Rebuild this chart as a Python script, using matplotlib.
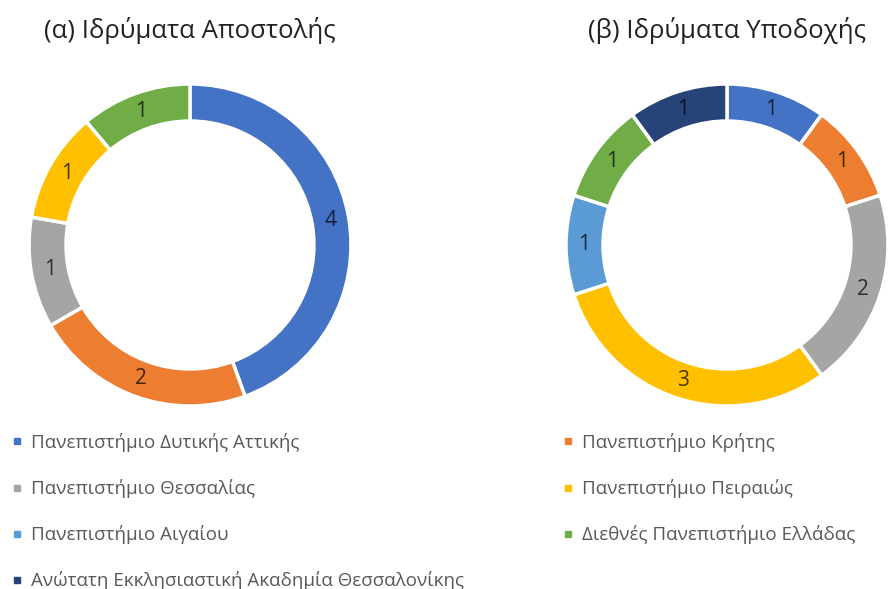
import numpy as np
import matplotlib.pyplot as plt
from matplotlib.lines import Line2D
from matplotlib.colors import to_rgb

plt.rcParams['font.family'] = ['Open Sans', 'DejaVu Sans']

# Institutions (legend order as in Excel, row-wise)
institutions = [
    'Πανεπιστήμιο Δυτικής Αττικής',
    'Πανεπιστήμιο Κρήτης',
    'Πανεπιστήμιο Θεσσαλίας',
    'Πανεπιστήμιο Πειραιώς',
    'Πανεπιστήμιο Αιγαίου',
    'Διεθνές Πανεπιστήμιο Ελλάδας',
    'Ανώτατη Εκκλησιαστική Ακαδημία Θεσσαλονίκης',
]
colors = ['#4472C4', '#ED7D31', '#A5A5A5', '#FFC000',
          '#5B9BD5', '#70AD47', '#264478']

sending   = [4, 2, 1, 1, 0, 1, 0]   # (α) Ιδρύματα Αποστολής
receiving = [1, 1, 2, 3, 1, 1, 1]   # (β) Ιδρύματα Υποδοχής

titles = ['(α) Ιδρύματα Αποστολής', '(β) Ιδρύματα Υποδοχής']

W, H = 894, 589
fig = plt.figure(figsize=(W / 100, H / 100), dpi=100)

R_PX = 161
LIM = 1.06
ring = 0.23


def darken(c, f=0.28):
    r, g, b = to_rgb(c)
    return (r * f, g * f, b * f)


def donut(cx, cy, values, title):
    size = 2 * R_PX * LIM
    ax = fig.add_axes([(cx - size / 2) / W, 1 - (cy + size / 2) / H,
                       size / W, size / H])
    idx = [i for i, v in enumerate(values) if v > 0]
    vals = [values[i] for i in idx]
    cols = [colors[i] for i in idx]
    wedges, _ = ax.pie(vals, colors=cols, startangle=90,
                       counterclock=False, radius=1,
                       wedgeprops=dict(width=ring, edgecolor='white',
                                       linewidth=2.5))
    rmid = 1 - ring / 2
    for w, v, c in zip(wedges, vals, cols):
        ang = np.deg2rad((w.theta1 + w.theta2) / 2)
        ax.text(rmid * np.cos(ang), rmid * np.sin(ang), f'{v}',
                ha='center', va='center', fontsize=15,
                color=darken(c))
    ax.set_xlim(-LIM, LIM)
    ax.set_ylim(-LIM, LIM)
    ax.set_aspect('equal')
    ax.axis('off')
    fig.text(cx / W, 1 - 30 / H, title, ha='center', va='center',
             fontsize=18.5, color='#222222')


donut(190, 245, sending, titles[0])
donut(727, 245, receiving, titles[1])

# Legend: two columns, row-wise order
left_idx = [0, 2, 4, 6]
right_idx = [1, 3, 5]


def make_handles(ids):
    return [Line2D([], [], marker='s', linestyle='none', markersize=5,
                   markerfacecolor=colors[i], markeredgecolor=colors[i])
            for i in ids]


for ids, x in [(left_idx, -6 / W), (right_idx, 545 / W)]:
    fig.legend(make_handles(ids), [institutions[i] for i in ids],
               loc='upper left', bbox_to_anchor=(x, 1 - 416 / H),
               frameon=False, fontsize=13.5, labelspacing=1.45,
               handlelength=0.6, handletextpad=0.45,
               labelcolor='#595959')

fig.savefig('out.png', dpi=100)
